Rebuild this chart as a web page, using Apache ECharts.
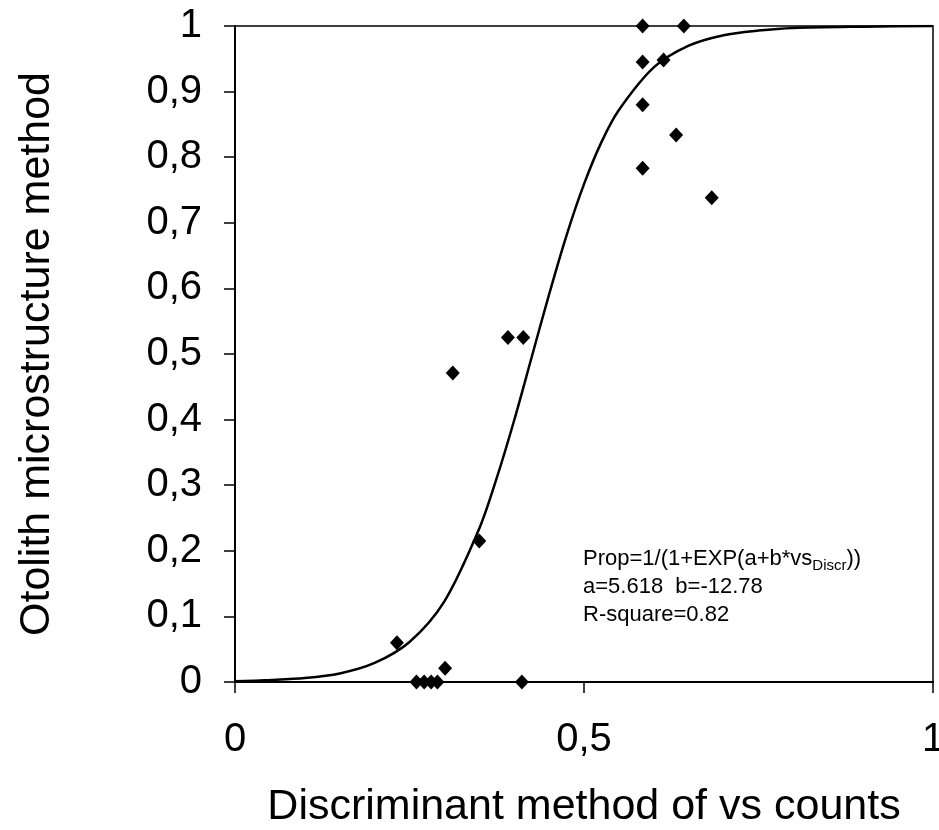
<!DOCTYPE html>
<html>
<head>
<meta charset="utf-8">
<title>Otolith vs discriminant</title>
<script src="https://cdn.jsdelivr.net/npm/echarts@6/dist/echarts.min.js"></script>
<style>
	html, body { margin: 0; padding: 0; background: #fff; }
	#chart { width: 939px; height: 830px; }
</style>
</head>
<body>
<div id="chart"></div>
<script>
const pointX = [0.232, 0.260, 0.271, 0.281, 0.290, 0.301, 0.312, 0.350, 0.391, 0.413, 0.411,
	0.584, 0.643, 0.584, 0.614, 0.584, 0.632, 0.584, 0.683];
const pointY = [0.060, 0, 0, 0, 0, 0.021, 0.471, 0.215, 0.525, 0.525, 0,
	1, 1, 0.945, 0.948, 0.880, 0.834, 0.783, 0.738];

// fitted curve
const curveX = [0, 0.05, 0.1, 0.15, 0.2, 0.25, 0.3, 0.35, 0.375, 0.4, 0.425, 0.45, 0.475,
	0.5, 0.525, 0.55, 0.6, 0.65, 0.7, 0.75, 0.8, 0.9, 1];
const curveY = [0.001, 0.003, 0.006, 0.013, 0.029, 0.061, 0.123, 0.234, 0.311, 0.399, 0.495, 0.591, 0.681,
	0.759, 0.823, 0.872, 0.937, 0.970, 0.986, 0.993, 0.997, 0.999, 1];

const xTickLabels = ["0", "0,5", "1"];
const yTickLabels = ["0", "0,1", "0,2", "0,3", "0,4", "0,5", "0,6", "0,7", "0,8", "0,9", "1"];

const FONT = "Liberation Sans, Arial, sans-serif";

const chart = echarts.init(document.getElementById("chart"));

chart.setOption({
	animation: false,
	backgroundColor: "#fff",
	textStyle: { fontFamily: FONT, color: "#000" },
	grid: {
		left: 235,
		right: 6,
		top: 26,
		bottom: 148,
		outerBoundsMode: "none",
		containLabel: false,
		show: true,
		borderColor: "#000",
		borderWidth: 1.5
	},
	xAxis: {
		type: "value",
		min: 0,
		max: 1,
		interval: 0.5,
		name: "Discriminant method of vs counts",
		nameLocation: "middle",
		nameGap: 104,
		nameTextStyle: { fontSize: 43, color: "#000", fontFamily: FONT },
		axisLine: { lineStyle: { color: "#000", width: 2 } },
		axisTick: { show: true, length: 11, lineStyle: { color: "#000", width: 1.5 } },
		splitLine: { show: false },
		axisLabel: {
			fontSize: 40,
			color: "#000",
			margin: 38,
			formatter: v => xTickLabels[Math.round(v / 0.5)]
		}
	},
	yAxis: {
		type: "value",
		min: 0,
		max: 1,
		interval: 0.1,
		name: "Otolith microstructure method",
		nameLocation: "middle",
		nameGap: 176,
		nameTextStyle: { fontSize: 43, color: "#000", fontFamily: FONT },
		axisLine: { lineStyle: { color: "#000", width: 2 } },
		axisTick: { show: true, length: 11, lineStyle: { color: "#000", width: 1.5 } },
		splitLine: { show: false },
		axisLabel: {
			fontSize: 40,
			color: "#000",
			margin: 33,
			formatter: v => yTickLabels[Math.round(v * 10)]
		}
	},
	graphic: [
		{
			type: "text",
			left: 583,
			top: 548,
			style: {
				text: "{a|Prop=1/(1+EXP(a+b*vs}{s|Discr}{a|))}\n{a|a=5.618  b=-12.78}\n{a|R-square=0.82}",
				rich: {
					a: { fontSize: 22, lineHeight: 28, fontFamily: FONT, fill: "#000" },
					s: { fontSize: 15, lineHeight: 18, verticalAlign: "bottom", fontFamily: FONT, fill: "#000" }
				}
			}
		}
	],
	series: [
		{
			type: "line",
			data: curveX.map((x, i) => [x, curveY[i]]),
			smooth: 0.3,
			showSymbol: false,
			lineStyle: { color: "#000", width: 2.5 },
			z: 2
		},
		{
			type: "scatter",
			data: pointX.map((x, i) => [x, pointY[i]]),
			symbol: "diamond",
			symbolSize: [14, 15],
			itemStyle: { color: "#000", opacity: 1 },
			clip: false,
			z: 3
		}
	]
});
</script>
</body>
</html>
